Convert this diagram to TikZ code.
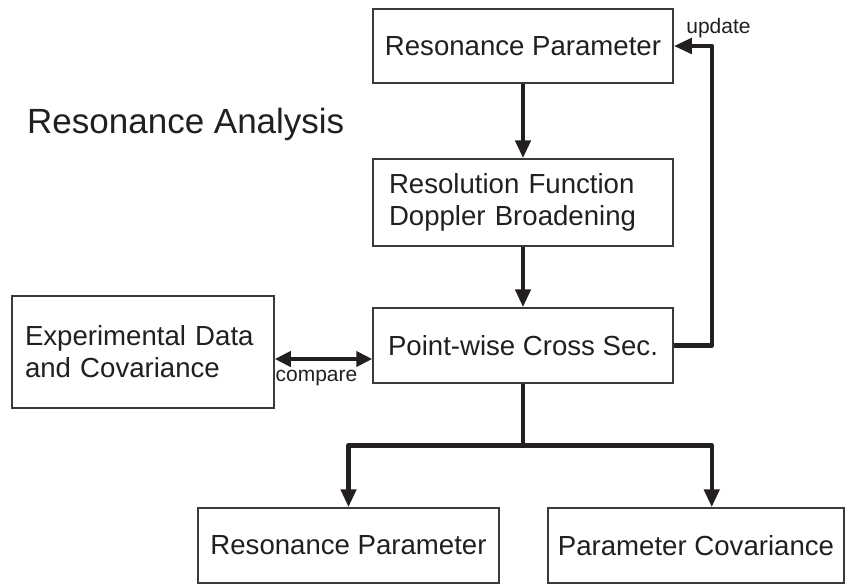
\documentclass[tikz,border=0pt]{standalone}
\usepackage{fontspec}
\setmainfont{Liberation Sans}
\usetikzlibrary{arrows.meta,calc}
\definecolor{ink}{HTML}{231F20}
\definecolor{frame}{HTML}{3A3A3A}
\begin{document}
\begin{tikzpicture}[x=1pt,y=-1pt,
  box/.style={draw=frame, line width=1.5pt, fill=white, inner sep=0pt,
    font=\fontsize{27.6}{32}\selectfont, text=ink},
  flow/.style={draw=ink, line width=4.5pt, line join=round,
    -{Triangle[length=18pt,width=15pt]}},
  both/.style={draw=ink, line width=4.5pt,
    {Triangle[length=16pt,width=15pt]}-{Triangle[length=16pt,width=15pt]}},
  tag/.style={font=\fontsize{21}{23}\selectfont, text=ink, inner sep=0pt}]
\useasboundingbox (0,0) rectangle (846,584);

% title
\node[font=\fontsize{35}{40}\selectfont, text=ink, inner sep=0pt, anchor=base west]
  (title) at (27,133) {Resonance Analysis};

% processing chain
\node[box, minimum width=300, minimum height=74] (b1) at (523,46) {Resonance Parameter};
\node[box, minimum width=300, minimum height=87, align=left, text width=268]
  (b2) at (523,202.5) {Resolution Function\\Doppler Broadening};
\node[box, minimum width=300, minimum height=75] (b3) at (523,345.5) {Point-wise Cross Sec.};
\node[box, minimum width=262, minimum height=112, align=left, text width=236]
  (exp) at (143,352) {Experimental Data\\and Covariance};

% results
\node[box, minimum width=301, minimum height=75] (b5) at (348.5,545.5) {Resonance Parameter};
\node[box, minimum width=296, minimum height=75] (b6) at (696,545.5) {Parameter Covariance};

% main flow
\draw[flow] (b1) -- (b2);
\draw[flow] (b2) -- (b3);

% update loop back to the parameters
\draw[flow] (b3.east) -- ++(38,0) coordinate (upd) |- (b1.east);
\node[tag, anchor=base] (updl) at (718.5,33) {update};

% comparison with experiment
\path ($(exp.east)+(0,7)$) coordinate (cmpL);
\draw[both] (cmpL) -- (cmpL -| b3.west);
\node[tag, anchor=base] (cmpl) at (316.5,381) {compare};

% split to the outputs
\path (b3.south) ++(0,61.5) coordinate (split);
\draw[draw=ink, line width=4.5pt] (b3.south) -- (split);
\draw[flow] (split) -| (b5.north);
\draw[flow] (split) -| (b6.north -| upd);
\end{tikzpicture}
\end{document}
